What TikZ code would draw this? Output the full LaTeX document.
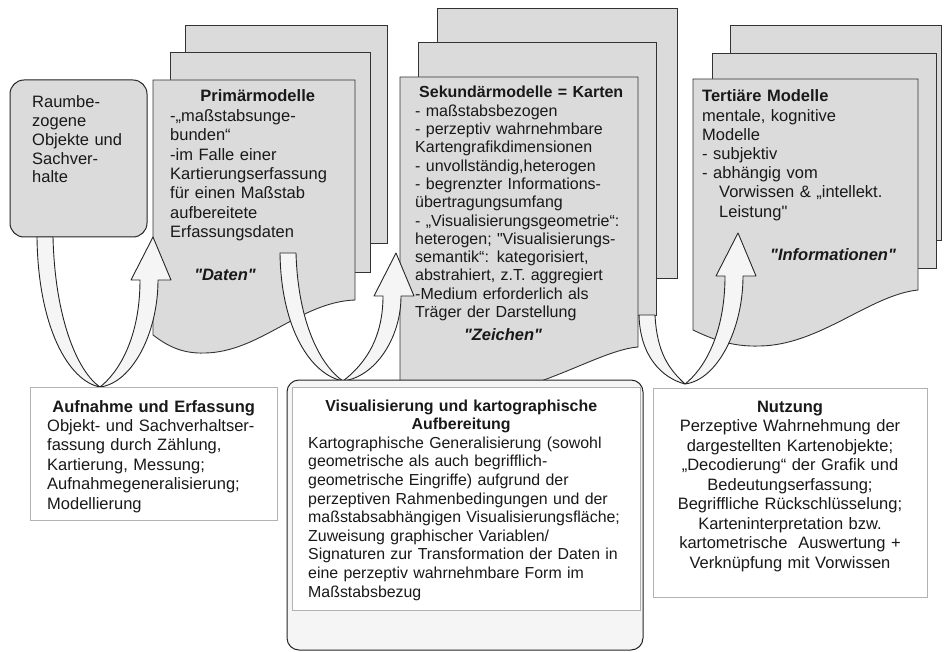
\documentclass[tikz,border=0pt]{standalone}
\usepackage{fontspec}
\setmainfont{Liberation Sans}[Ligatures=TeXOff]
\usetikzlibrary{calc}

% ribbon arrow: #1 bottom point, #2 tail x, #3 tail y, #4 tip y (offsets from #1)
\newcommand{\ribbon}[4]{%
  \begin{scope}[shift={(#1)}]
    \filldraw[ribbon] (#2,#3) .. controls ({#2+1},{0.4*(#3)}) and ({0.5*(#2)},-6) .. (0,0)
      .. controls ({0.35*(#2)},-15) and ({#2+18},{0.45*(#3)}) .. ({#2+16},#3) -- cycle;
    \filldraw[ribbon] (0,0) .. controls (18,-14) and (40,{0.45*(#4+43)}) .. (40,{#4+43})
      -- (31,{#4+43}) -- (53,#4) -- (71,{#4+43}) -- (58,{#4+43})
      .. controls (58,{0.5*(#4+43)}) and (32,-4) .. (0,0) -- cycle;
  \end{scope}}

\begin{document}
\begin{tikzpicture}[x=1pt,y=-1pt,
  sheet/.style={draw=black!80,fill=black!14,line width=0.9pt},
  roundbox/.style={draw=black!85,rounded corners=14pt,line width=1pt},
  lightbox/.style={draw=black!30,line width=0.7pt,fill=white},
  txt/.style={inner sep=0pt,align=left,text=black!90,font=\fontsize{16.5}{19.4}\selectfont},
  word/.style={inner sep=0pt,text=black!90,font=\fontsize{16.5}{19}\selectfont\bfseries\itshape},
  ribbon/.style={draw=black!85,fill=black!4,line width=0.9pt,line join=round}
]
\useasboundingbox (0,0) rectangle (944,652);
\fill[white] (0,0) rectangle (944,652);

% stack 1: Primaermodelle
\draw[sheet] (185,25) rectangle (387,243);
\draw[sheet] (170,52) rectangle (370,272);
\draw[sheet] (153,80) -- (355,80) -- (355,300)
  .. controls (300,302) and (260,352) .. (205,353)
  .. controls (180,354) and (165,344) .. (153,335) -- cycle;

% stack 2: Sekundaermodelle
\draw[sheet] (437,8) rectangle (677,278);
\draw[sheet] (418,42) rectangle (656,315);
\draw[sheet] (400,77) -- (638,77) -- (638,347)
  .. controls (600,350) and (540,392) .. (475,396)
  .. controls (445,398) and (420,392) .. (400,386) -- cycle;

% stack 3: Tertiaere Modelle
\draw[sheet] (730,25) rectangle (941,240);
\draw[sheet] (712,53) rectangle (936,268);
\draw[sheet] (693,79) -- (918,79) -- (918,290)
  .. controls (870,295) and (820,345) .. (760,346)
  .. controls (730,347) and (710,338) .. (693,330) -- cycle;

\node[roundbox,fill=black!14,minimum width=137pt,minimum height=157pt] (raum) at (78.5,158.5) {};
\node[txt,text width=125pt,anchor=base west,font=\fontsize{16.5}{18.7}\selectfont] (raumtxt) at (32,108)
  {Raumbe-\\zogene\\Objekte und\\Sachver-\\halte};

\node[txt,text width=175pt,anchor=base west] (prim) at (170,102)
  {\makebox[\hsize]{\textbf{Primärmodelle}}\\-„maßstabsunge-\\bunden“\\-im Falle einer\\Kartierungserfassung\\für einen Maßstab\\aufbereitete\\Erfassungsdaten};
\node[word,anchor=base] (daten) at (225,280) {"Daten"};

\node[txt,text width=230pt,anchor=base west,font=\fontsize{16}{18.3}\selectfont] (sek) at (415,98)
  {\hspace*{4pt}\textbf{Sekundärmodelle = Karten}\\- maßstabsbezogen\\- perzeptiv wahrnehmbare\\Kartengrafikdimensionen\\- unvollständig,heterogen\\- begrenzter Informations-\\übertragungsumfang\\- „Visualisierungsgeometrie“:\\heterogen; "Visualisierungs-\\semantik“: kategorisiert,\\abstrahiert, z.T. aggregiert\\-Medium erforderlich als\\Träger der Darstellung};
\node[word,anchor=base] (zeichen) at (503,340) {"Zeichen"};

\node[txt,text width=210pt,anchor=base west,font=\fontsize{16.5}{19.2}\selectfont] (tert) at (702,102)
  {\textbf{Tertiäre Modelle}\\mentale, kognitive\\Modelle\\- subjektiv\\- abhängig vom\\\hspace*{17pt}Vorwissen \& „intellekt.\\\hspace*{17pt}Leistung"};
\node[word,anchor=base] (info) at (833,260) {"Informationen"};

% ribbon arrows
\coordinate (b1) at (100,387);
\coordinate (b2) at (343,381);
\coordinate (b3) at (685,384);
\ribbon{b1}{-63}{-150}{-150}
\ribbon{b2}{-63}{-128}{-128}
\ribbon{b3}{-46}{-69}{-151}

% bottom boxes
\node[lightbox,minimum width=247pt,minimum height=133pt] (aufn) at (153.5,453.5) {};
\node[txt,text width=225pt,anchor=base west] (aufntxt) at (47,412)
  {\makebox[213pt]{\textbf{Aufnahme und Erfassung}}\\Objekt- und Sachverhaltser-\\fassung durch Zählung,\\Kartierung, Messung;\\Aufnahmegeneralisierung;\\Modellierung};

\node[roundbox,fill=black!4,rounded corners=12pt,minimum width=356pt,minimum height=270pt] (visu) at (465,515) {};
\node[lightbox,minimum width=348pt,minimum height=223pt] (visuin) at (466,498.5) {};
\node[txt,text width=330pt,anchor=base west,font=\fontsize{15.9}{18.6}\selectfont] (visutxt) at (308,411)
  {\makebox[306pt]{\textbf{Visualisierung und kartographische}}\\\makebox[306pt]{\textbf{Aufbereitung}}\\Kartographische Generalisierung (sowohl\\geometrische als auch begrifflich-\\geometrische Eingriffe) aufgrund der\\perzeptiven Rahmenbedingungen und der\\maßstabsabhängigen Visualisierungsfläche;\\Zuweisung graphischer Variablen/\\Signaturen zur Transformation der Daten in\\eine perzeptiv wahrnehmbare Form im\\Maßstabsbezug};

\node[lightbox,minimum width=274pt,minimum height=209pt] (nutz) at (790,492.5) {};
\node[txt,text width=270pt,align=center,anchor=base,font=\fontsize{16.5}{19.5}\selectfont] (nutztxt) at (790,412)
  {\textbf{Nutzung}\\Perzeptive Wahrnehmung der\\dargestellten Kartenobjekte;\\„Decodierung“ der Grafik und\\Bedeutungserfassung;\\Begriffliche Rückschlüsselung;\\Karteninterpretation bzw.\\kartometrische\ \ Auswertung +\\Verknüpfung mit Vorwissen};
\end{tikzpicture}
\end{document}
